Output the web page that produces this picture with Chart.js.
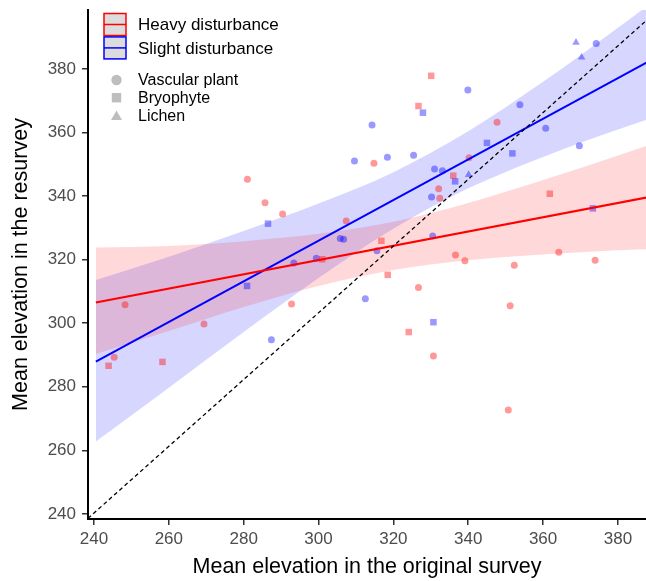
<!DOCTYPE html>
<html>
<head>
<meta charset="utf-8">
<script src="https://cdn.jsdelivr.net/npm/chart.js@4.4.0/dist/chart.umd.min.js"></script>
<style>
html, body { margin: 0; padding: 0; background: #fff; overflow: hidden; }
#wrap { width: 646px; height: 581px; }
</style>
</head>
<body>
<div id="wrap"><canvas id="plot"></canvas></div>
<script>
// heavy disturbance
var heavyVascX = [347.7, 314.8, 340.2, 332.1, 332.4, 281.0, 285.7, 290.4, 307.4, 336.6, 339.1, 352.3, 364.2, 373.9, 326.7, 351.2, 330.7, 350.7, 248.3, 292.8, 269.4, 245.4];
var heavyVascY = [363.2, 350.3, 352.0, 342.3, 339.3, 345.3, 337.9, 334.3, 332.1, 321.4, 319.6, 318.2, 322.3, 319.8, 311.2, 305.5, 289.7, 272.7, 305.8, 306.0, 299.7, 289.3];
var heavyBryoX = [330.1, 326.7, 336.0, 361.8, 301.0, 316.8, 318.5, 324.1, 243.9, 258.3];
var heavyBryoY = [377.8, 368.3, 346.4, 340.7, 320.1, 325.9, 315.2, 297.2, 286.6, 287.8];

// slight disturbance
var slightVascX = [374.2, 339.9, 353.8, 314.3, 360.7, 369.7, 318.4, 325.4, 309.6, 331.0, 333.1, 330.2, 330.5, 315.6, 305.8, 306.7, 293.4, 299.4, 312.5, 287.4];
var slightVascY = [388.0, 373.3, 368.7, 362.3, 361.3, 355.8, 352.2, 352.8, 351.0, 348.5, 347.9, 339.7, 327.4, 322.8, 326.6, 326.4, 318.9, 320.4, 307.7, 294.8];
var slightBryoX = [327.9, 345.0, 351.8, 336.5, 373.3, 286.5, 280.9, 330.7];
var slightBryoY = [366.2, 356.7, 353.4, 344.6, 336.1, 331.3, 311.7, 300.3];
var slightLichX = [368.8, 370.3, 340.1];
var slightLichY = [388.3, 383.6, 346.7];

// fitted lines and confidence bands
var lineX = [240.5, 388];
var heavyLineY = [306.5, 339.6];
var slightLineY = [287.9, 382.2];
var bandX = [240.5, 260, 280, 300, 320, 340, 360, 380, 388];
var heavyUpper = [323.8, 324.3, 325.8, 328.1, 331.9, 337.8, 345.0, 352.7, 355.9];
var heavyLower = [290.3, 297.5, 305.1, 311.7, 316.7, 319.8, 321.6, 322.9, 323.3];
var slightUpper = [313.6, 320.9, 329.0, 337.6, 347.5, 360.4, 375.9, 392.9, 399.9];
var slightLower = [262.8, 279.7, 297.2, 314.2, 329.7, 342.4, 352.3, 360.9, 364.1];

// 1:1 reference
var refX = [238.4, 387.5];
var refY = [238.6, 395.1];

var xTicks = [240, 260, 280, 300, 320, 340, 360, 380];
var yTicks = [240, 260, 280, 300, 320, 340, 360, 380];

var lineKeys = [
	{ label: 'Heavy disturbance', color: '#ff0000' },
	{ label: 'Slight disturbance', color: '#0000ff' }
];
var shapeKeys = ['Vascular plant', 'Bryophyte', 'Lichen'];

function pts(xs, ys) {
	return xs.map(function (x, i) { return { x: x, y: ys[i] }; });
}

function pointSet(xs, ys, color, style, r) {
	return {
		data: pts(xs, ys),
		showLine: false,
		pointStyle: style,
		pointRadius: r,
		pointBackgroundColor: color,
		pointBorderWidth: 0,
		borderWidth: 0,
		order: 3
	};
}

function bandSet(ys, color, fill) {
	return {
		data: pts(bandX, ys),
		borderWidth: 0,
		pointRadius: 0,
		backgroundColor: color,
		fill: fill,
		cubicInterpolationMode: 'monotone',
		order: 5
	};
}

function lineSet(ys, color) {
	return {
		data: pts(lineX, ys),
		borderColor: color,
		borderWidth: 2,
		pointRadius: 0,
		fill: false,
		order: 1
	};
}

// no extra padding around the axes
function noPad(scale) {
	scale.paddingTop = 0;
	scale.paddingBottom = 0;
	scale.paddingLeft = 0;
	scale.paddingRight = 0;
}

var keyPlugin = {
	id: 'keyPlugin',
	afterDraw: function (chart) {
		var ctx = chart.ctx;
		ctx.save();
		ctx.textBaseline = 'middle';
		lineKeys.forEach(function (k, i) {
			var top = 13.5 + i * 23.4;
			ctx.fillStyle = '#dcdcdc';
			ctx.fillRect(104, top, 22, 22);
			ctx.strokeStyle = k.color;
			ctx.lineWidth = 1.5;
			ctx.strokeRect(104, top, 22, 22);
			ctx.beginPath();
			ctx.moveTo(104, top + 11);
			ctx.lineTo(126, top + 11);
			ctx.stroke();
			ctx.fillStyle = '#000';
			ctx.font = '17px "Liberation Sans", Arial, sans-serif';
			ctx.fillText(k.label, 138, top + 12);
		});
		ctx.fillStyle = '#bebebe';
		// circle
		ctx.beginPath();
		ctx.arc(116.5, 80, 5.2, 0, Math.PI * 2);
		ctx.fill();
		// square
		ctx.fillRect(111.8, 93, 9.4, 9.4);
		// triangle
		ctx.beginPath();
		ctx.moveTo(116.5, 110.5);
		ctx.lineTo(122, 120);
		ctx.lineTo(111, 120);
		ctx.closePath();
		ctx.fill();
		ctx.fillStyle = '#000';
		ctx.font = '16px "Liberation Sans", Arial, sans-serif';
		shapeKeys.forEach(function (s, i) {
			ctx.fillText(s, 138, 80.5 + i * 18);
		});
		ctx.restore();
	}
};

Chart.defaults.font.family = '"Liberation Sans", Arial, sans-serif';

var redPt = 'rgba(255,0,0,0.4)';
var bluePt = 'rgba(0,0,255,0.4)';

new Chart(document.getElementById('plot'), {
	type: 'line',
	data: {
		datasets: [
			bandSet(heavyUpper, 'rgba(255,0,0,0.15)', '+1'),
			bandSet(heavyLower, 'rgba(255,0,0,0.15)', false),
			bandSet(slightUpper, 'rgba(0,0,255,0.16)', '+1'),
			bandSet(slightLower, 'rgba(0,0,255,0.16)', false),
			pointSet(heavyVascX, heavyVascY, redPt, 'circle', 3.5),
			pointSet(heavyBryoX, heavyBryoY, redPt, 'rect', 4.6),
			pointSet(slightVascX, slightVascY, bluePt, 'circle', 3.5),
			pointSet(slightBryoX, slightBryoY, bluePt, 'rect', 4.6),
			pointSet(slightLichX, slightLichY, bluePt, 'triangle', 4.4),
			lineSet(heavyLineY, '#ff0000'),
			lineSet(slightLineY, '#0000ff'),
			{
				data: pts(refX, refY),
				borderColor: '#000',
				borderWidth: 1.3,
				borderDash: [4, 3],
				pointRadius: 0,
				fill: false,
				order: 0
			}
		]
	},
	options: {
		responsive: true,
		maintainAspectRatio: false,
		animation: false,
		layout: { autoPadding: false, padding: { top: 10, right: 0, left: 0, bottom: 0 } },
		plugins: {
			legend: { display: false },
			tooltip: { enabled: false }
		},
		scales: {
			x: {
				type: 'linear',
				min: 238.4,
				max: 387.5,
				afterBuildTicks: function (scale) { scale.ticks = xTicks.map(function (v) { return { value: v }; }); },
				afterFit: function (scale) { scale.height = 62; noPad(scale); },
				grid: { drawOnChartArea: false, drawTicks: true, tickLength: 6, color: '#333', lineWidth: 1.5 },
				border: { display: true, color: '#000', width: 2 },
				ticks: { color: '#4d4d4d', font: { size: 17 }, padding: 4, maxRotation: 0, autoSkip: false },
				title: { display: true, text: 'Mean elevation in the original survey', color: '#000', font: { size: 21.5 }, padding: { top: 0, bottom: 1 } }
			},
			y: {
				type: 'linear',
				min: 238.4,
				max: 398.5,
				afterBuildTicks: function (scale) { scale.ticks = yTicks.map(function (v) { return { value: v }; }); },
				afterFit: function (scale) { scale.width = 88; noPad(scale); },
				grid: { drawOnChartArea: false, drawTicks: true, tickLength: 6, color: '#333', lineWidth: 1.5 },
				border: { display: true, color: '#000', width: 2 },
				ticks: { color: '#4d4d4d', font: { size: 17 }, padding: 6 },
				title: { display: true, text: 'Mean elevation in the resurvey', color: '#000', font: { size: 21.5 }, padding: { top: 8, bottom: 0 } }
			}
		}
	},
	plugins: [keyPlugin]
});
</script>
</body>
</html>
